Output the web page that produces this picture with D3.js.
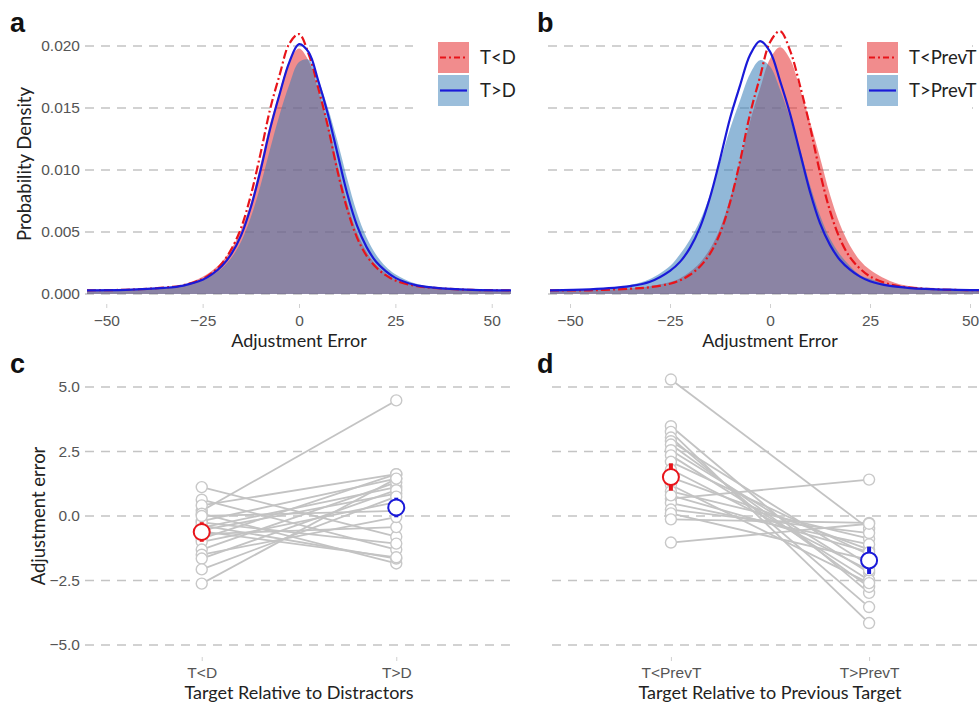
<!DOCTYPE html>
<html>
<head>
<meta charset="utf-8">
<script src="https://cdn.jsdelivr.net/npm/d3@7"></script>
<style>
  body { margin: 0; background: #fff; }
  svg { display: block; font-family: Lato, "Open Sans", sans-serif; }
</style>
</head>
<body>
<svg width="979" height="705"></svg>
<script>
// error values (x) where the densities were read
const errGrid = [-55, -45, -35, -30, -25, -22.5, -20, -17.5, -15, -12.5, -10, -7.5, -5, -2.5, 0,
  2.5, 5, 7.5, 10, 12.5, 15, 17.5, 20, 22.5, 25, 30, 35, 45, 55];

// densities, in units of 0.001
const aFillLow = [0.3, 0.33, 0.5, 0.75, 1.4, 1.9, 2.6, 3.65, 5.2, 7.35, 10.4, 13.7, 16.4, 18.8, 19.8,
  18.8, 16.4, 13.7, 10.4, 7.35, 5.0, 3.43, 2.35, 1.67, 1.18, 0.69, 0.49, 0.32, 0.3];
const aFillHigh = [0.3, 0.32, 0.47, 0.65, 1.08, 1.49, 2.07, 2.94, 4.24, 6.18, 8.73, 11.7, 14.5, 16.9, 18.7,
  18.9, 17.3, 15.0, 12.3, 9.3, 6.6, 4.57, 3.17, 2.22, 1.59, 0.86, 0.58, 0.35, 0.3];
const aLineLow = [0.3, 0.34, 0.51, 0.71, 1.21, 1.72, 2.46, 3.64, 5.35, 7.96, 11.3, 14.9, 17.7, 20.2, 20.96,
  19.35, 16.6, 13.5, 9.9, 6.86, 4.59, 3.1, 2.15, 1.52, 1.09, 0.67, 0.49, 0.33, 0.3];
const aLineHigh = [0.3, 0.33, 0.49, 0.68, 1.14, 1.6, 2.25, 3.25, 4.75, 7.0, 9.95, 13.3, 16.15, 18.7, 20.15,
  19.5, 17.2, 14.5, 11.3, 8.1, 5.55, 3.8, 2.6, 1.85, 1.3, 0.74, 0.52, 0.34, 0.3];

const bFillLow = [0.3, 0.3, 0.45, 0.62, 0.96, 1.28, 1.8, 2.52, 3.65, 5.29, 7.68, 10.7, 13.9, 16.55, 18.95,
  19.9, 18.95, 16.55, 13.9, 11.0, 8.0, 5.6, 3.9, 2.7, 1.95, 1.05, 0.62, 0.36, 0.3];
const bFillHigh = [0.3, 0.4, 0.72, 1.2, 2.25, 3.2, 4.4, 5.9, 8.0, 10.6, 13.3, 15.6, 17.75, 18.86, 18.35,
  16.5, 14.2, 11.65, 8.8, 6.35, 4.47, 3.18, 2.25, 1.53, 1.22, 0.72, 0.52, 0.35, 0.3];
const bLineLow = [0.3, 0.3, 0.43, 0.55, 0.83, 1.1, 1.55, 2.22, 3.26, 4.88, 7.37, 10.7, 14.5, 17.5, 20.3,
  21.2, 19.65, 16.8, 13.5, 9.8, 6.7, 4.44, 2.96, 2.05, 1.42, 0.77, 0.52, 0.34, 0.3];
const bLineHigh = [0.3, 0.38, 0.64, 0.99, 1.87, 2.59, 3.72, 5.37, 7.78, 10.85, 14.16, 16.8, 19.27, 20.4, 19.55,
  17.2, 14.55, 11.4, 8.25, 5.72, 3.96, 2.74, 1.96, 1.4, 1.03, 0.65, 0.48, 0.35, 0.3];

const densTicks = [0, 0.005, 0.010, 0.015, 0.020];
const errTicks = [-50, -25, 0, 25, 50];

// per-subject adjustment error
const cCats = ["T<D", "T>D"];
const cLow = [0.2, 1.12, 0.63, 0.41, 0.09, -0.2, -0.36, -0.45, -0.55, -0.7, -0.88, -1.0, -1.3, -1.5, -1.65, -2.07, -2.62, -0.25, 0.0, -0.6];
const cHigh = [4.48, -0.8, -1.3, 1.62, -1.84, 1.45, -1.65, 1.12, 0.87, -0.43, 1.62, 0.54, 1.3, -0.04, 1.0, 0.75, 1.45, -1.07, 0.2, -1.6];
const cMeans = [-0.62, 0.33];
const cErr = [0.38, 0.38];

const dCats = ["T<PrevT", "T>PrevT"];
const dLow = [5.29, 3.48, 3.26, 3.04, 2.9, 2.77, 2.55, 2.35, 2.1, 1.8, 1.5, 1.2, 0.95, 0.67, 0.5, 0.25, 0.1, -0.13, -1.03, 0.8];
const dHigh = [-0.5, -2.98, -4.15, -3.53, -1.9, -2.75, -2.2, -2.49, -1.5, -2.1, -1.3, -2.6, -0.88, 1.41, -1.1, -0.66, -1.7, -0.27, -0.3, -1.4];
const dMeans = [1.51, -1.72];
const dErr = [0.53, 0.53];

const adjTicks = [-5, -2.5, 0, 2.5, 5];

const svg = d3.select("svg");
const redFill = "#e41a1c", blueFill = "#377eb8";
const gridColor = "#c4c4c4";

function hGrid(g, y, ticks, x0, x1) {
  g.append("g").selectAll("line").data(ticks).join("line")
      .attr("x1", x0).attr("x2", x1)
      .attr("y1", d => y(d)).attr("y2", d => y(d))
      .attr("stroke", gridColor).attr("stroke-width", 1.6)
      .attr("stroke-dasharray", "9,7");
}

function styleAxis(g) {
  g.select(".domain").remove();
  g.selectAll(".tick line").attr("stroke", "#d0d0d0");
  g.selectAll(".tick text").attr("fill", "#555").attr("font-size", 15.5);
}

function densityPanel(opt) {
  const x = d3.scaleLinear().domain([-55, 55]).range(opt.xr);
  const y = d3.scaleLinear().domain([0, 0.020]).range([294, 46]);
  const g = svg.append("g");

  hGrid(g, y, densTicks, opt.xr[0] - 2, opt.gx1);

  const toPts = arr => arr.map((v, i) => [errGrid[i], v / 1000]);
  const area = d3.area().x(d => x(d[0])).y0(y(0)).y1(d => y(d[1])).curve(d3.curveCatmullRom);
  const line = d3.line().x(d => x(d[0])).y(d => y(d[1])).curve(d3.curveCatmullRom);

  g.append("path").attr("d", area(toPts(opt.fillLow))).attr("fill", redFill).attr("fill-opacity", 0.5);
  g.append("path").attr("d", area(toPts(opt.fillHigh))).attr("fill", blueFill).attr("fill-opacity", 0.55);
  g.append("path").attr("d", line(toPts(opt.lineLow))).attr("fill", "none")
      .attr("stroke", "#e8141a").attr("stroke-width", 2.2).attr("stroke-dasharray", "9,3,2,3");
  g.append("path").attr("d", line(toPts(opt.lineHigh))).attr("fill", "none")
      .attr("stroke", "#1a1ad8").attr("stroke-width", 2.2);

  g.append("g").attr("transform", "translate(0,304)")
      .call(d3.axisBottom(x).tickValues(errTicks).tickSize(4).tickPadding(7))
      .call(styleAxis);

  if (opt.yAxis) {
    g.append("g").attr("transform", "translate(84,0)")
        .call(d3.axisLeft(y).tickValues(densTicks).tickFormat(d3.format(".3f")).tickSize(0).tickPadding(4))
        .call(styleAxis);
    g.append("text").attr("transform", "translate(31,164) rotate(-90)")
        .attr("text-anchor", "middle").attr("font-size", 18.5).attr("fill", "#222")
        .text("Probability Density");
  }

  g.append("text").attr("x", x(0)).attr("y", 347).attr("text-anchor", "middle")
      .attr("font-size", 18).attr("fill", "#222").text("Adjustment Error");

  // legend
  const lg = g.append("g").attr("transform", `translate(${opt.lx},0)`);
  lg.append("rect").attr("x", -25).attr("y", 35).attr("width", 130).attr("height", 78).attr("fill", "#fff");
  opt.keys.forEach((k, i) => {
    const y0 = 42 + i * 33;
    lg.append("rect").attr("x", 0).attr("y", y0).attr("width", 31).attr("height", 31)
        .attr("fill", i === 0 ? redFill : blueFill).attr("fill-opacity", 0.5);
    lg.append("line").attr("x1", 2).attr("x2", 29).attr("y1", y0 + 15.5).attr("y2", y0 + 15.5)
        .attr("stroke", i === 0 ? "#e8141a" : "#1a1ad8").attr("stroke-width", 2.2)
        .attr("stroke-dasharray", i === 0 ? "6,3,2,3" : null);
    lg.append("text").attr("x", 42).attr("y", y0 + 22).attr("font-size", 18.5).attr("fill", "#222").text(k);
  });

  svg.append("text").attr("x", opt.lx0).attr("y", 32).attr("font-family", "Liberation Sans, Arial, sans-serif")
      .attr("font-weight", "bold").attr("font-size", 27).attr("fill", "#111").text(opt.letter);
}

function pairPanel(opt) {
  const x = d3.scalePoint().domain(opt.cats).range(opt.xr).padding(0.6);
  const y = d3.scaleLinear().domain([-5, 5]).range([645, 387]);
  const g = svg.append("g");

  hGrid(g, y, adjTicks, opt.gx0, opt.gx1);

  const x0 = x(opt.cats[0]), x1 = x(opt.cats[1]);
  g.append("g").selectAll("line").data(opt.low).join("line")
      .attr("x1", x0).attr("x2", x1)
      .attr("y1", d => y(d)).attr("y2", (d, i) => y(opt.high[i]))
      .attr("stroke", "#c3c3c3").attr("stroke-width", 1.8);

  const pts = opt.low.map(v => [x0, v]).concat(opt.high.map(v => [x1, v]));
  g.append("g").selectAll("circle").data(pts).join("circle")
      .attr("cx", d => d[0]).attr("cy", d => y(d[1])).attr("r", 5.5)
      .attr("fill", "#fff").attr("stroke", "#c8c8c8").attr("stroke-width", 1.4);

  const cols = ["#e8141a", "#1a1ad8"];
  opt.cats.forEach((c, i) => {
    g.append("line").attr("x1", x(c)).attr("x2", x(c))
        .attr("y1", y(opt.means[i] + opt.err[i])).attr("y2", y(opt.means[i] - opt.err[i]))
        .attr("stroke", cols[i]).attr("stroke-width", 4);
    g.append("circle").attr("cx", x(c)).attr("cy", y(opt.means[i])).attr("r", 8)
        .attr("fill", "#fff").attr("stroke", cols[i]).attr("stroke-width", 2);
  });

  g.append("g").attr("transform", "translate(0,657)")
      .call(d3.axisBottom(x).tickSize(4).tickPadding(6))
      .call(styleAxis);

  if (opt.yAxis) {
    g.append("g").attr("transform", "translate(84,0)")
        .call(d3.axisLeft(y).tickValues(adjTicks).tickFormat(d3.format(".1f")).tickSize(0).tickPadding(4))
        .call(styleAxis);
    g.append("text").attr("transform", "translate(45,516) rotate(-90)")
        .attr("text-anchor", "middle").attr("font-size", 18.5).attr("fill", "#222")
        .text("Adjustment error");
  }

  g.append("text").attr("x", (x0 + x1) / 2).attr("y", 699).attr("text-anchor", "middle")
      .attr("font-size", 18).attr("fill", "#222").text(opt.title);

  svg.append("text").attr("x", opt.lx0).attr("y", 373).attr("font-family", "Liberation Sans, Arial, sans-serif")
      .attr("font-weight", "bold").attr("font-size", 27).attr("fill", "#111").text(opt.letter);
}

densityPanel({
  letter: "a", lx0: 10, xr: [87, 511], gx1: 510, yAxis: true,
  fillLow: aFillLow, fillHigh: aFillHigh, lineLow: aLineLow, lineHigh: aLineHigh,
  keys: ["T<D", "T>D"], lx: 438
});
densityPanel({
  letter: "b", lx0: 537, xr: [550, 990], gx1: 979, yAxis: false,
  fillLow: bFillLow, fillHigh: bFillHigh, lineLow: bLineLow, lineHigh: bLineHigh,
  keys: ["T<PrevT", "T>PrevT"], lx: 867
});
pairPanel({
  letter: "c", lx0: 10, xr: [85, 513], gx0: 85, gx1: 510, yAxis: true,
  cats: cCats, low: cLow, high: cHigh, means: cMeans, err: cErr,
  title: "Target Relative to Distractors"
});
pairPanel({
  letter: "d", lx0: 537, xr: [552, 988], gx0: 552, gx1: 979, yAxis: false,
  cats: dCats, low: dLow, high: dHigh, means: dMeans, err: dErr,
  title: "Target Relative to Previous Target"
});
</script>
</body>
</html>
